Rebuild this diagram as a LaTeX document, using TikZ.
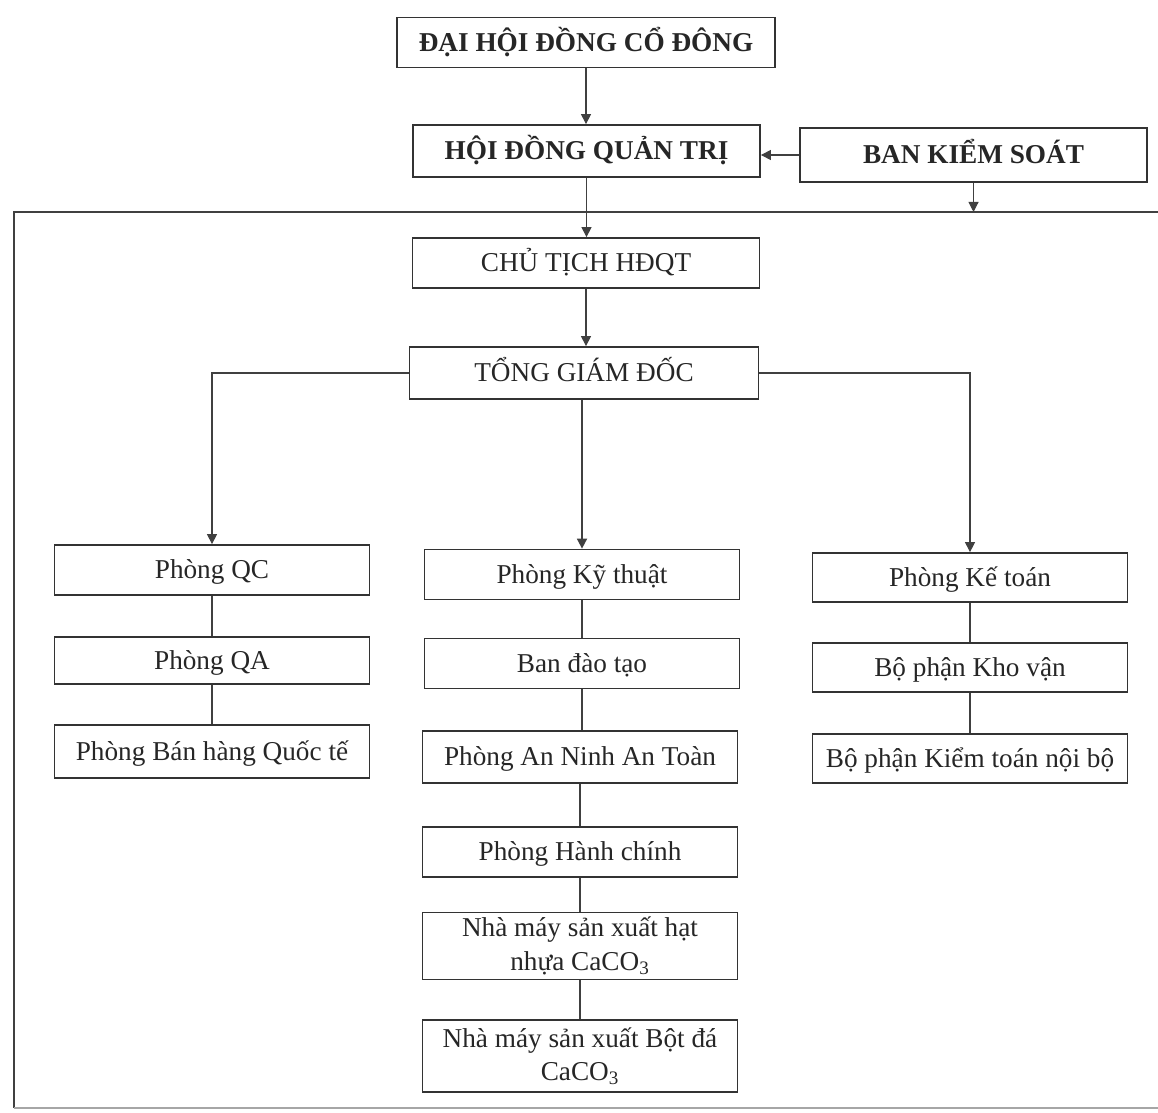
\documentclass[tikz,border=0pt]{standalone}
\usepackage{fontspec}
\setmainfont{Liberation Serif}
\usetikzlibrary{arrows.meta}

\begin{document}
\begin{tikzpicture}[>={Triangle[length=2mm,width=2mm]},
    every text node part/.style={align=center},
    every node/.style={font=\fontsize{15.5}{19}\selectfont, text=black!85},
    box/.style={draw=black!80, line width=1pt, minimum width=6.3cm, minimum height=1cm, inner sep=2pt},
    oneline/.style={box, text height=12pt, text depth=2pt},
    head/.style={oneline, minimum width=6.94cm, minimum height=1.04cm},
    boldhead/.style={head, font=\fontsize{15.5}{19}\selectfont\bfseries},
    link/.style={draw=black!75, line width=0.6pt}]

    \useasboundingbox (0,0) rectangle (23.16,22.24);

    % --------------------------------------------------------- %
    % ------------- outer frame
    % --------------------------------------------------------- %
    \coordinate (ftr) at (23.16,18.0);
    \coordinate (ftl) at (0.28,18.0);
    \coordinate (fbl) at (0.28,0.08);
    \coordinate (fbr) at (23.16,0.08);
    \draw[link, line width=1pt] (ftr) -- (ftl) -- (fbl);
    \draw[black!35, line width=0.8pt] (fbl) -- (fbr);

    % --------------------------------------------------------- %
    % ------------- top management
    % --------------------------------------------------------- %
    \node[boldhead, minimum width=7.56cm, minimum height=1cm] (dhcd) at (11.72,21.39) {ĐẠI HỘI ĐỒNG CỔ ĐÔNG};
    \node[boldhead] (hdqt) at (11.73,19.22) {HỘI ĐỒNG QUẢN TRỊ};
    \node[boldhead, minimum height=1.08cm] (bks) at (19.47,19.14) {BAN KIỂM SOÁT};
    \node[head, minimum height=1cm] (ctich) at (11.72,16.98) {CHỦ TỊCH HĐQT};
    \node[head, minimum width=6.98cm] (tgd) at (11.68,14.78) {TỔNG GIÁM ĐỐC};

    \draw[link,->] (dhcd.south) -- (dhcd.south |- hdqt.north);
    \draw[link,->] (bks.west) -- (bks.west -| hdqt.east);
    \draw[link,->] (bks.south) -- (bks.south |- ftl);
    \draw[link,->] (hdqt.south) -- (hdqt.south |- ctich.north);
    \draw[link,->] (ctich.south) -- (ctich.south |- tgd.north);

    % --------------------------------------------------------- %
    % ------------- left column
    % --------------------------------------------------------- %
    \node[oneline] (pqc) at (4.24,10.84) {Phòng QC};
    \node[oneline, minimum height=0.94cm] (pqa) at (4.24,9.03) {Phòng QA};
    \node[oneline, minimum height=1.06cm] (pbh) at (4.24,7.21) {Phòng Bán hàng Quốc tế};

    % --------------------------------------------------------- %
    % ------------- centre column
    % --------------------------------------------------------- %
    \node[oneline] (pkt) at (11.64,10.75) {Phòng Kỹ thuật};
    \node[oneline] (bdt) at (11.64,8.97) {Ban đào tạo};
    \node[oneline, minimum height=1.04cm] (anat) at (11.6,7.1) {Phòng An Ninh An Toàn};
    \node[oneline] (hc) at (11.6,5.2) {Phòng Hành chính};
    \node[box, minimum height=1.34cm] (nmh) at (11.6,3.32) {Nhà máy sản xuất hạt\\nhựa CaCO\textsubscript{3}};
    \node[box, minimum height=1.44cm] (nmb) at (11.6,1.12) {Nhà máy sản xuất Bột đá\\CaCO\textsubscript{3}};

    % --------------------------------------------------------- %
    % ------------- right column
    % --------------------------------------------------------- %
    \node[oneline, minimum height=0.98cm] (pkto) at (19.4,10.69) {Phòng Kế toán};
    \node[oneline, minimum height=0.98cm] (bpkv) at (19.4,8.89) {Bộ phận Kho vận};
    \node[oneline, minimum height=0.98cm] (bpkt) at (19.4,7.07) {Bộ phận Kiểm toán nội bộ};

    % links from the director
    \draw[link,->] (tgd.west) -| (pqc.north);
    \draw[link,->] (tgd.east) -| (pkto.north);
    \draw[link,->, line width=1pt] (pkt.north |- tgd.south) -- (pkt.north);

    % links inside the columns
    \foreach \a/\b in {pqc/pqa, pqa/pbh, pkt/bdt, bdt/anat, anat/hc, hc/nmh, nmh/nmb, pkto/bpkv, bpkv/bpkt}
      \draw[link] (\a.south) -- (\a.south |- \b.north);

  \end{tikzpicture}
\end{document}
